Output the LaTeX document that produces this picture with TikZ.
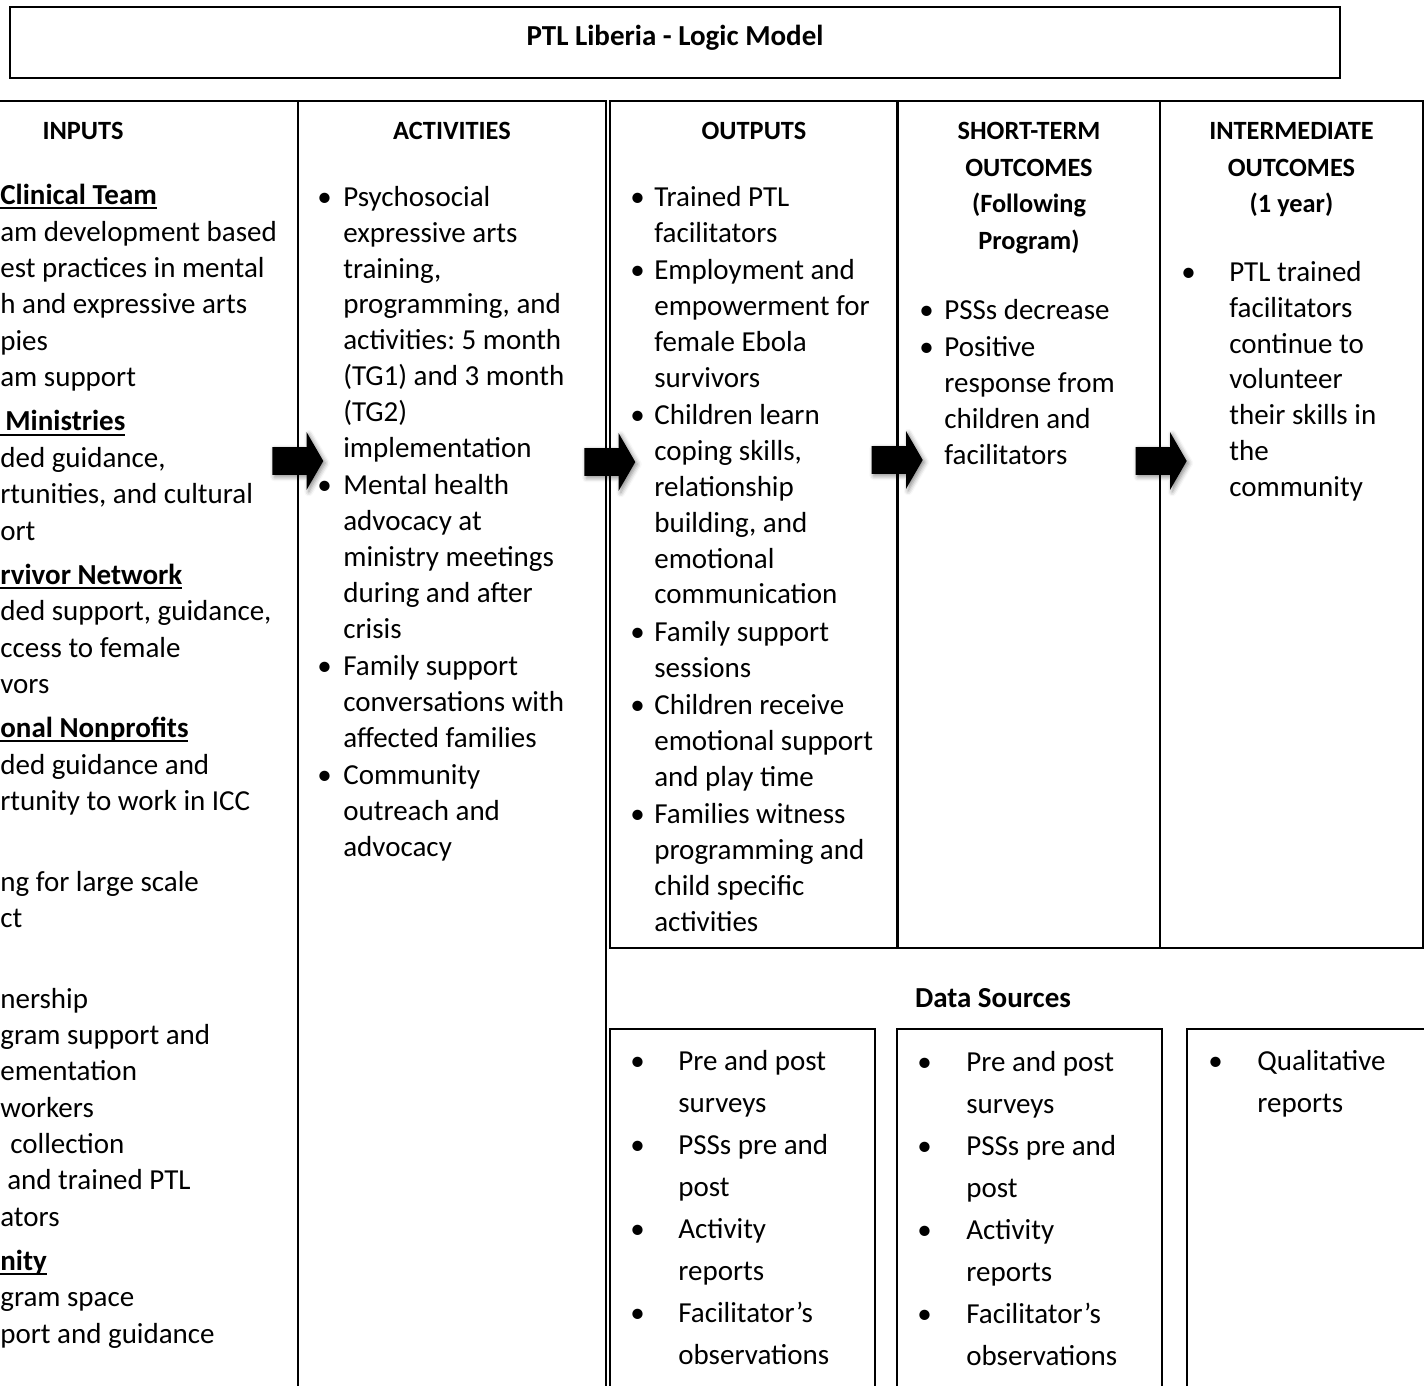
\documentclass[tikz,border=0pt]{standalone}
\usepackage{fontspec}
\setmainfont{Carlito}
\usetikzlibrary{shapes.arrows, positioning, fit, calc, shadows.blur}
\frenchspacing
\newlength\pxu
\setlength\pxu{0.02cm}
\newsavebox\ulbox
\newcommand\undl[1]{\sbox\ulbox{#1}\rlap{\rule[-2.6pt]{\wd\ulbox}{1.1pt}}\usebox\ulbox}
\newcommand\bodyfont{\fontsize{16.5}{20.4}\selectfont}
\newcommand\inpfont{\fontsize{16.5}{20.7}\selectfont}
\newcommand\dsfont{\fontsize{16.5}{23.9}\selectfont}
\newcommand\hdrfont{\fontsize{15}{21}\selectfont\bfseries}
\newcommand\titlefont{\fontsize{16.5}{20}\selectfont\bfseries}
\tikzset{
    cell/.style={draw=black, line width=0.9pt, inner sep=0pt},
    hdr/.style={anchor=north, inner sep=0pt, font=\hdrfont},
    txt/.style={anchor=north west, inner sep=0pt, font=\bodyfont},
    blockarr/.style={single arrow, fill=black, inner xsep=0pt, inner ysep=0.27cm, minimum height=1.02cm,
        single arrow head extend=0.3cm, single arrow tip angle=120,
        blur shadow={shadow xshift=1.2pt, shadow yshift=-1.2pt, shadow blur radius=2.5pt, shadow opacity=45}}
}
\begin{document}
\begin{tikzpicture}[x=0.02cm, y=-0.02cm]
    \useasboundingbox (0,0) rectangle (1424,1386);
    \clip (0,0) rectangle (1424,1386);

    % title
    \node[cell, line width=1.1pt, fit={(10,7) (1340,78)}] (title) {};
    \node[font=\titlefont, anchor=base, inner sep=0pt] (titletxt) at (title.center |- 0,45) {PTL Liberia - Logic Model};

    % table cells
    \node[cell, fit={(-150,101) (298,1420)}] (inp) {};
    \node[cell, fit={(298,101) (606,1420)}] (act) {};
    \node[cell, fit={(610,101) (898,948)}] (out) {};
    \node[cell, fit={(898,101) (1160,948)}] (short) {};
    \node[cell, fit={(1160,101) (1423,948)}] (inter) {};
    \draw[line width=1.6pt] (short.north west) -- (short.south west);

    % headers
    \node[hdr] (inph) at (83,113) {\begin{tabular}{@{}c@{}}INPUTS\end{tabular}};
    \node[hdr] (acth) at (act.north |- 0,113) {\begin{tabular}{@{}c@{}}ACTIVITIES\end{tabular}};
    \node[hdr] (outh) at (out.north |- 0,113) {\begin{tabular}{@{}c@{}}OUTPUTS\end{tabular}};
    \node[hdr] (shorth) at (short.north |- 0,113) {\begin{tabular}{@{}c@{}}SHORT-TERM\\ OUTCOMES\\ (Following\\ Program)\end{tabular}};
    \node[hdr] (interh) at (inter.north |- 0,113) {\begin{tabular}{@{}c@{}}INTERMEDIATE\\ OUTCOMES\\ (1 year)\end{tabular}};

    % inputs
    \node[txt, font=\inpfont] (inptxt) at (0,179) {\begin{tabular}{@{}l@{}}
        \undl{\bfseries Clinical Team}\\
        am development based\\
        est practices in mental\\
        h and expressive arts\\
        pies\\
        am support\\[4.5pt]
        \undl{\bfseries\hspace*{5\pxu}Ministries}\\
        ded guidance,\\
        rtunities, and cultural\\
        ort\\[4.5pt]
        \undl{\bfseries rvivor Network}\\
        ded support, guidance,\\
        ccess to female\\
        vors\\[4.5pt]
        \undl{\bfseries onal Nonprofits}\\
        ded guidance and\\
        rtunity to work in ICC\\[4.5pt]
        \\
        ng for large scale\\
        ct\\[4.5pt]
        \\
        nership\\
        gram support and\\
        ementation\\
        workers\\
        \hspace*{10\pxu}collection\\
        \hspace*{7\pxu}and trained PTL\\
        ators\\[4.5pt]
        \undl{\bfseries nity}\\
        gram space\\
        port and guidance
    \end{tabular}};

    % activities
    \node[txt] (acttxt) at (317,181) {\begin{tabular}{@{}p{26\pxu}@{}l@{}}
        \textbullet & Psychosocial\\ & expressive arts\\ & training,\\ & programming, and\\
            & activities: 5 month\\ & (TG1) and 3 month\\ & (TG2)\\ & implementation\\[0.9pt]
        \textbullet & Mental health\\ & advocacy at\\ & ministry meetings\\ & during and after\\ & crisis\\[0.9pt]
        \textbullet & Family support\\ & conversations with\\ & affected families\\[0.9pt]
        \textbullet & Community\\ & outreach and\\ & advocacy
    \end{tabular}};

    % outputs
    \node[txt] (outtxt) at (630,181) {\begin{tabular}{@{}p{24\pxu}@{}l@{}}
        \textbullet & Trained PTL\\ & facilitators\\[0.9pt]
        \textbullet & Employment and\\ & empowerment for\\ & female Ebola\\ & survivors\\[0.9pt]
        \textbullet & Children learn\\ & coping skills,\\ & relationship\\ & building, and\\ & emotional\\ & communication\\[0.9pt]
        \textbullet & Family support\\ & sessions\\[0.9pt]
        \textbullet & Children receive\\ & emotional support\\ & and play time\\[0.9pt]
        \textbullet & Families witness\\ & programming and\\ & child specific\\ & activities
    \end{tabular}};

    % short-term outcomes
    \node[txt] (shorttxt) at (919,294) {\begin{tabular}{@{}p{25\pxu}@{}l@{}}
        \textbullet & PSSs decrease\\[0.9pt]
        \textbullet & Positive\\ & response from\\ & children and\\ & facilitators
    \end{tabular}};

    % intermediate outcomes
    \node[txt] (intertxt) at (1181,256) {\begin{tabular}{@{}p{48\pxu}@{}l@{}}
        \textbullet & PTL trained\\ & facilitators\\ & continue to\\ & volunteer\\ & their skills in\\ & the\\ & community
    \end{tabular}};

    % arrows between columns
    \node[blockarr, xshift=-0.1cm] (arr1) at (inp.east |- 0,461) {};
    \node[blockarr, xshift=-0.02cm] (arr2) at (act.east |- 0,462) {};
    \node[blockarr, xshift=-0.08cm] (arr3) at (short.west |- 0,460) {};
    \node[blockarr, xshift=-0.04cm] (arr4) at (inter.west |- 0,461) {};

    % data sources
    \node[font=\titlefont, anchor=base, inner sep=0pt] (dshead) at (993,1007) {Data Sources};
    \node[cell, fit={(610,1029) (875,1420)}] (ds1) {};
    \node[cell, fit={(897,1029) (1162,1420)}] (ds2) {};
    \node[cell, fit={(1187,1029) (1440,1420)}] (ds3) {};

    \node[txt, font=\dsfont] (ds1txt) at (630,1041) {\begin{tabular}{@{}p{48\pxu}@{}l@{}}
        \textbullet & Pre and post\\ & surveys\\
        \textbullet & PSSs pre and\\ & post\\
        \textbullet & Activity\\ & reports\\
        \textbullet & Facilitator’s\\ & observations
    \end{tabular}};
    \node[txt, font=\dsfont] (ds2txt) at (917,1042) {\begin{tabular}{@{}p{49\pxu}@{}l@{}}
        \textbullet & Pre and post\\ & surveys\\
        \textbullet & PSSs pre and\\ & post\\
        \textbullet & Activity\\ & reports\\
        \textbullet & Facilitator’s\\ & observations
    \end{tabular}};
    \node[txt, font=\dsfont] (ds3txt) at (1208,1041) {\begin{tabular}{@{}p{49\pxu}@{}l@{}}
        \textbullet & Qualitative\\ & reports
    \end{tabular}};
\end{tikzpicture}
\end{document}
